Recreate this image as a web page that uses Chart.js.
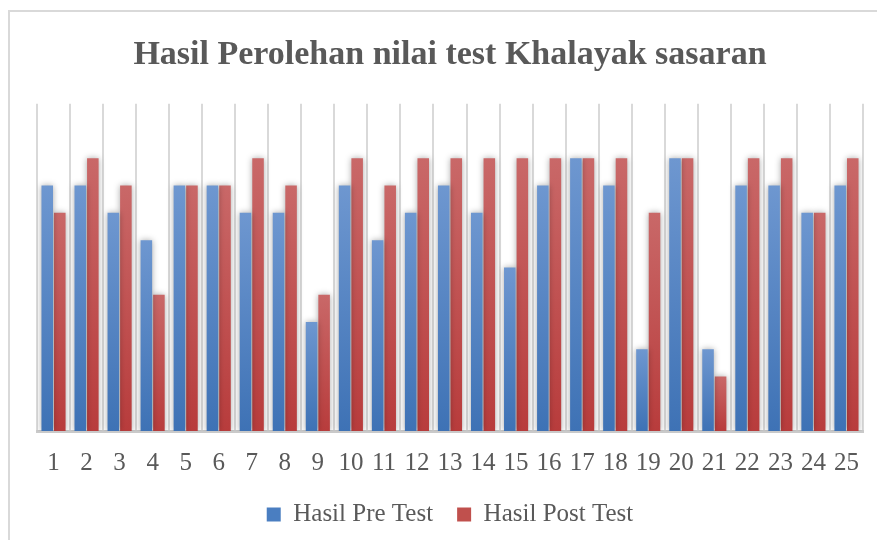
<!DOCTYPE html>
<html>
<head>
<meta charset="utf-8">
<script src="https://cdn.jsdelivr.net/npm/chart.js@4"></script>
<style>
  html, body { margin: 0; padding: 0; background: #fff; }
  #wrap { position: relative; width: 877px; height: 540px; overflow: hidden; }
  #frame { position: absolute; left: 8px; top: 10px; width: 900px; height: 600px;
           border: 2px solid #d9d9d9; box-sizing: border-box; }
  canvas { position: absolute; left: 0; top: 0; }
</style>
</head>
<body>
<div id="wrap">
  <div id="frame"></div>
  <canvas id="chart" width="877" height="540"></canvas>
</div>
<script>
const labels = ['1','2','3','4','5','6','7','8','9','10','11','12','13','14','15','16','17','18','19','20','21','22','23','24','25'];
const pre_test  = [9, 9, 8, 7, 9, 9, 8, 8, 4, 9, 7, 8, 9, 8, 6, 9, 10, 9, 3, 10, 3, 9, 9, 8, 9];
const post_test = [8, 10, 9, 5, 9, 9, 10, 9, 5, 10, 9, 10, 10, 10, 10, 10, 10, 10, 8, 10, 2, 10, 10, 8, 10];

// per-bar vertical gradient, lighter at the top
function bar_gradient(top_color, bottom_color) {
    return function (context) {
        const chart = context.chart;
        const y = chart.scales.y;
        if (!y || context.raw === undefined) return bottom_color;
        const y_top = y.getPixelForValue(context.raw);
        const y_bot = y.getPixelForValue(0);
        const g = chart.ctx.createLinearGradient(0, y_top, 0, y_bot);
        g.addColorStop(0, top_color);
        g.addColorStop(1, bottom_color);
        return g;
    };
}

const barShadow = {
    id: 'barShadow',
    beforeDatasetsDraw(chart) {
        const ctx = chart.ctx;
        ctx.save();
        ctx.shadowColor = 'rgba(0,0,0,0.35)';
        ctx.shadowBlur = 6;
        ctx.shadowOffsetX = 0;
        ctx.shadowOffsetY = 0;
    },
    afterDatasetsDraw(chart) {
        chart.ctx.restore();
    }
};

// pull the legend a bit closer to the tick labels
const legendLift = {
    id: 'legendLift',
    afterLayout(chart) {
        if (chart.legend) {
            chart.legend.top -= 17;
            chart.legend.bottom -= 17;
        }
    }
};

const ctx = document.getElementById('chart');
const resultChart = new Chart(ctx, {
    type: 'bar',
    data: {
        labels: labels,
        datasets: [{
            label: 'Hasil Pre Test',
            data: pre_test,
            backgroundColor: bar_gradient('rgb(110, 151, 208)', 'rgb(62, 114, 181)'),
            borderWidth: 0,
            categoryPercentage: 0.76,
            barPercentage: 0.92
        },
        {
            label: 'Hasil Post Test',
            data: post_test,
            backgroundColor: bar_gradient('rgb(201, 104, 104)', 'rgb(184, 60, 60)'),
            borderWidth: 0,
            categoryPercentage: 0.76,
            barPercentage: 0.92
        }]
    },
    options: {
        responsive: false,
        animation: false,
        layout: { padding: { left: 37, right: 14, top: 10, bottom: -14 } },
        plugins: {
            title: {
                display: true,
                text: 'Hasil Perolehan nilai test Khalayak sasaran',
                color: '#595959',
                font: { family: 'Liberation Serif', size: 34, weight: 'bold' },
                padding: { top: 25, bottom: 28 }
            },
            legend: {
                position: 'bottom',
                labels: {
                    color: '#595959',
                    font: { family: 'Liberation Serif', size: 25 },
                    boxWidth: 14,
                    boxHeight: 14,
                    padding: 24,
                    generateLabels(chart) {
                        const fills = ['rgb(74, 126, 193)', 'rgb(192, 80, 77)'];
                        return chart.data.datasets.map((d, i) => ({
                            text: d.label,
                            fillStyle: fills[i],
                            strokeStyle: fills[i],
                            lineWidth: 0,
                            fontColor: '#595959',
                            datasetIndex: i
                        }));
                    }
                }
            },
            tooltip: { enabled: false }
        },
        scales: {
            x: {
                offset: true,
                grid: {
                    offset: true,
                    color: '#d9d9d9',
                    lineWidth: 2,
                    drawTicks: false
                },
                border: { color: '#c9c9c9', width: 3 },
                ticks: {
                    color: '#595959',
                    font: { family: 'Liberation Serif', size: 25 },
                    padding: 17,
                    maxRotation: 0,
                    autoSkip: false
                }
            },
            y: {
                display: false,
                min: 0,
                max: 12
            }
        }
    },
    plugins: [barShadow, legendLift]
});
</script>
</body>
</html>
